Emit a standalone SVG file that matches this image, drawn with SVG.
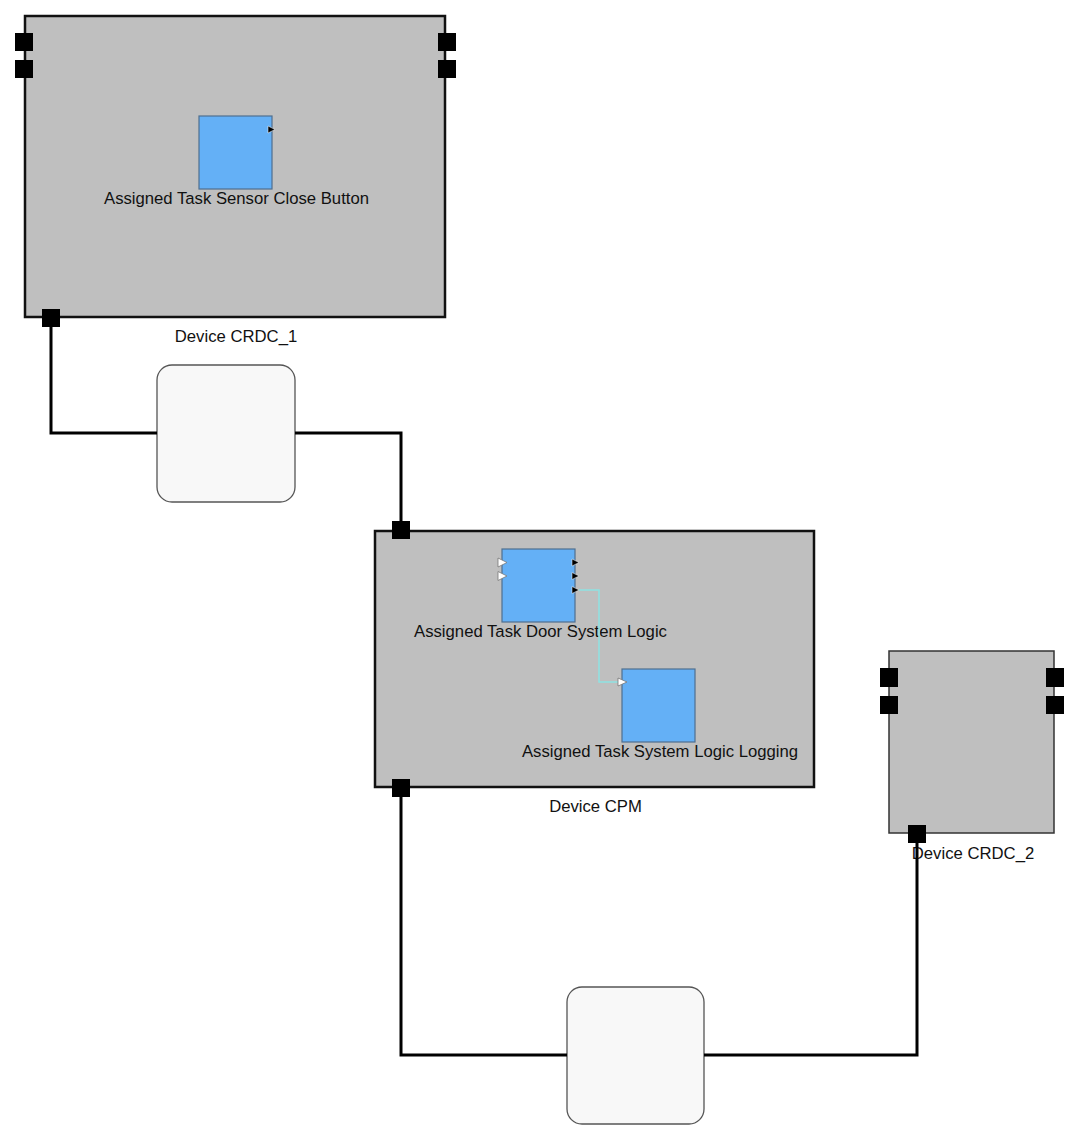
<svg xmlns="http://www.w3.org/2000/svg" width="1075" height="1138" viewBox="0 0 1075 1138">
<style>
.dev{fill:#bfbfbf;stroke:#111;stroke-width:2.5}
.dev2{fill:#bfbfbf;stroke:#333;stroke-width:1.5}
.port{fill:#000}
.task{fill:#64b0f6;stroke:#4f6f8f;stroke-width:1.2}
.out{fill:#000;stroke:#fff;stroke-width:0.5}
.in{fill:#fff;stroke:#777;stroke-width:0.8}
.cloud{fill:#f8f8f8;stroke:#555;stroke-width:1.3}
.wire{fill:none;stroke:#000;stroke-width:3}
.flow{fill:none;stroke:#8fe3e3;stroke-width:1.5}
text{font-family:"Liberation Sans",Arial,sans-serif;font-size:16.7px;fill:#111;text-anchor:middle}
</style>
<g id="cloud1"><rect class="cloud" x="157" y="365" width="138" height="137" rx="15"/></g>
<g id="cloud2"><rect class="cloud" x="567" y="987" width="137" height="137" rx="15"/></g>
<g id="device-crdc1">
<rect class="dev" x="25" y="16" width="420" height="301"/>
<rect class="port" x="15" y="33" width="18" height="18"/>
<rect class="port" x="15" y="60" width="18" height="18"/>
<rect class="port" x="438" y="33" width="18" height="18"/>
<rect class="port" x="438" y="60" width="18" height="18"/>
<rect class="port" x="42" y="309" width="18" height="18"/>
<text x="236" y="342">Device CRDC_1</text>
</g>
<g id="task-sensor">
<rect class="task" x="199" y="116" width="73" height="73"/>
<polygon class="out" points="268,126 275,129.5 268,133"/>
<text x="236.5" y="204">Assigned Task Sensor Close Button</text>
</g>
<g id="device-cpm">
<rect class="dev" x="375" y="531" width="439" height="256"/>
<rect class="port" x="392" y="521" width="18" height="18"/>
<rect class="port" x="392" y="779" width="18" height="18"/>
<text x="595.5" y="812">Device CPM</text>
</g>
<g id="task-door">
<rect class="task" x="502" y="549" width="73" height="73"/>
<polygon class="in" points="498,558 507,562.5 498,567"/>
<polygon class="in" points="498,571.5 507,576 498,580.5"/>
<polygon class="out" points="572,559 579,562.5 572,566"/>
<polygon class="out" points="572,572.5 579,576 572,579.5"/>
<polygon class="out" points="572,586.5 579,590 572,593.5"/>
<text x="540.5" y="637">Assigned Task Door System Logic</text>
</g>
<g id="task-logging">
<rect class="task" x="622" y="669" width="73" height="73"/>
<text x="660" y="757">Assigned Task System Logic Logging</text>
</g>
<g id="device-crdc2">
<rect class="dev2" x="889" y="651" width="165" height="182"/>
<rect class="port" x="880" y="668" width="18" height="19"/>
<rect class="port" x="880" y="696" width="18" height="18"/>
<rect class="port" x="1046" y="668" width="18" height="19"/>
<rect class="port" x="1046" y="696" width="18" height="18"/>
<rect class="port" x="908" y="825" width="18" height="18"/>
<text x="973" y="859">Device CRDC_2</text>
</g>
<g id="connectors">
<polyline class="wire" points="51,327 51,433 157,433"/>
<polyline class="wire" points="295,433 401,433 401,521"/>
<polyline class="wire" points="401,797 401,1055 567,1055"/>
<polyline class="wire" points="704,1055 917,1055 917,843"/>
<polyline class="flow" points="579,590 599,590 599,682 618,682"/>
<polygon class="in" points="618,678 627,682 618,686"/>
</g>
</svg>
